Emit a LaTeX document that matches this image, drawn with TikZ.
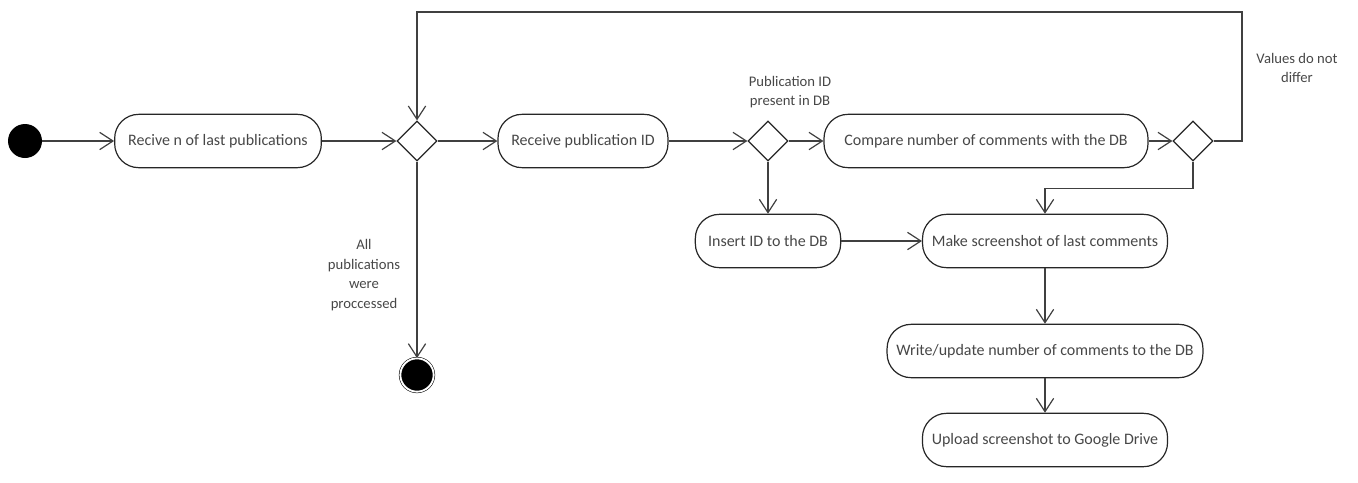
\documentclass[tikz,border=0pt]{standalone}
\usepackage{fontspec}
\setmainfont{Carlito}
\usetikzlibrary{shapes.geometric,arrows.meta}

\begin{document}
\begin{tikzpicture}[
    x=0.75pt, y=-0.75pt,
    font=\fontsize{12}{14.6}\selectfont,
    action/.style={rectangle, rounded corners=18pt, draw=black!85, line width=0.9pt,
        minimum height=40pt, inner xsep=7pt, inner ysep=0pt, text=black!72},
    decision/.style={diamond, draw=black!85, line width=0.9pt, minimum size=30pt, inner sep=0pt},
    flow/.style={draw=black!75, line width=1.3pt, -{Straight Barb[length=10pt, width=13pt, line width=0.9pt]}},
    note/.style={align=center, text=black!72, font=\fontsize{11}{14.6}\selectfont}
]
\useasboundingbox (0,0) rectangle (1358,482);

\node[circle, fill=black, minimum size=25.5pt, inner sep=0pt] (start) at (25,141) {};
\node[action, minimum width=155pt] (recv) at (218,141) {Recive n of last publications};
\node[decision] (merge) at (417,141) {};
\node[action, minimum width=127.5pt] (pubid) at (583,141) {Receive publication ID};
\node[decision] (indb) at (768,141) {};
\node[action, minimum width=243pt] (compare) at (986,141) {Compare number of comments with the DB};
\node[decision] (differ) at (1193,141) {};
\node[action, minimum width=109pt] (insert) at (768,241) {Insert ID to the DB};
\node[action, minimum width=165pt] (shot) at (1045,241) {Make screenshot of last comments};
\node[action, minimum width=222pt] (write) at (1045,351) {Write/update number of comments to the DB};
\node[action, minimum width=160pt] (upload) at (1045,440) {Upload screenshot to Google Drive};
\node[circle, fill=black, draw=black, double=white, double distance=1.4pt,
    minimum size=25pt, inner sep=0pt] (final) at (417,375) {};

\node[note] (present) at (790,92) {Publication ID\\present in DB};
\node[note] (same) at (1297,68) {Values do not\\differ};
\node[note] (done) at (364,275) {All\\publications\\were\\proccessed};

\coordinate (loop) at (1242,12);

\draw[flow] (start) -- (recv);
\draw[flow] (recv) -- (merge);
\draw[flow] (merge) -- (pubid);
\draw[flow] (merge) -- (final);
\draw[flow] (pubid) -- (indb);
\draw[flow] (indb) -- (compare);
\draw[flow] (indb) -- (insert);
\draw[flow] (compare) -- (differ);
\draw[flow] (differ.east) -| (loop) -| (merge.north);
\draw[flow] (differ.south) -- ++(0,27) -| (shot.north);
\draw[flow] (insert) -- (shot);
\draw[flow] (shot) -- (write);
\draw[flow] (write) -- (upload);

\end{tikzpicture}
\end{document}
